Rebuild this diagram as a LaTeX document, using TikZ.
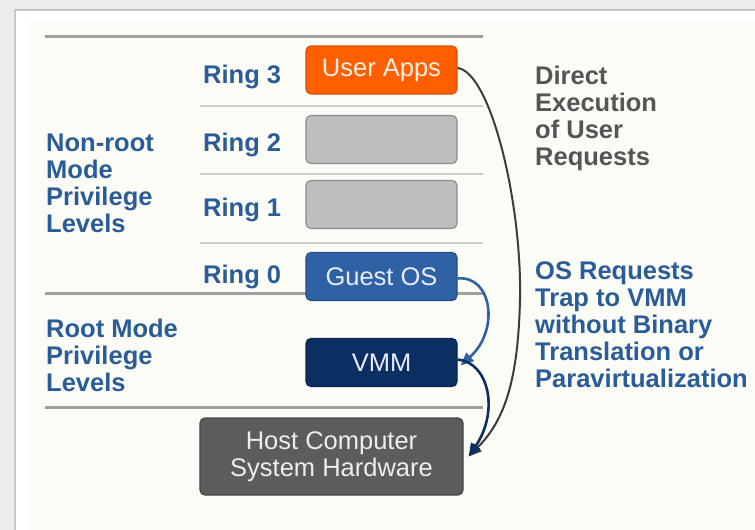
\documentclass[tikz,border=0pt]{standalone}
\usepackage{fontspec}
\setmainfont{Liberation Sans}
\usetikzlibrary{arrows.meta}
\definecolor{ringblue}{HTML}{2A5C98}
\definecolor{orangebox}{HTML}{FF5F00}
\definecolor{grayfill}{HTML}{BEBEBE}
\definecolor{grayedge}{HTML}{8A8A8A}
\definecolor{guestblue}{HTML}{2E62A5}
\definecolor{vmmnavy}{HTML}{0B2E63}
\definecolor{hostgray}{HTML}{5C5C5C}
\definecolor{sidegray}{HTML}{555555}
\definecolor{panelcream}{HTML}{FCFCF6}
\definecolor{arrowgray}{HTML}{3C3C3C}
\tikzset{
  lbl/.style={inner sep=0pt, anchor=base west, align=left, font=\fontsize{25.5}{27}\selectfont\bfseries},
  ringlbl/.style={lbl, text=ringblue},
  box/.style={draw, rounded corners=5pt, line width=1.2pt, minimum width=151pt, minimum height=48pt, inner sep=0pt, font=\fontsize{25.5}{27}\selectfont},
  thickrule/.style={draw=gray!75, line width=3pt},
  thinrule/.style={draw=gray!40, line width=1.3pt},
  conn/.style={line width=2.6pt, -{Triangle[length=13pt,width=11pt]}},
}
\begin{document}
\begin{tikzpicture}[x=1pt,y=-1pt]
\useasboundingbox (0,0) rectangle (755,530);
\fill[gray!15] (0,0) rectangle (755,530);
\filldraw[fill=white, draw=gray!45, line width=1.5pt] (15,10) rectangle (760,540);
\fill[panelcream] (27,22) rectangle (755,530);
% rules
\coordinate (r0a) at (45,36);   \coordinate (r0b) at (483,36);
\coordinate (r1a) at (200,106); \coordinate (r1b) at (483,106);
\coordinate (r2a) at (200,174); \coordinate (r2b) at (483,174);
\coordinate (r3a) at (200,243); \coordinate (r3b) at (483,243);
\coordinate (r4a) at (45,293);  \coordinate (r4b) at (483,293);
\coordinate (r5a) at (45,407);  \coordinate (r5b) at (483,407);
\draw[thickrule] (r0a) -- (r0b);
\draw[thinrule] (r1a) -- (r1b);
\draw[thinrule] (r2a) -- (r2b);
\draw[thinrule] (r3a) -- (r3b);
\draw[thickrule] (r4a) -- (r4b);
\draw[thickrule] (r5a) -- (r5b);
% boxes
\node[box, draw=orangebox!85!black, fill=orangebox, text=orange!10] (apps) at (381.5,70) {User Apps};
\node[box, draw=grayedge, fill=grayfill] (ring2box) at (381.5,139.5) {};
\node[box, draw=grayedge, fill=grayfill] (ring1box) at (381.5,204.5) {};
\node[box, draw=guestblue!80!black, fill=guestblue, text=white!92!blue] (guest) at (381.5,276.5) {Guest OS};
\node[box, draw=vmmnavy!80!black, fill=vmmnavy, text=white!92!blue] (vmm) at (381.5,362.5) {VMM};
\node[box, draw=hostgray!75!black, fill=hostgray, text=white!93!black, minimum width=263pt, minimum height=77pt, align=center] (host) at (331.5,456.5) {Host Computer\\System Hardware};
% ring labels
\node[ringlbl] (ring3) at (203,83) {Ring 3};
\node[ringlbl] (ring2) at (203,151) {Ring 2};
\node[ringlbl] (ring1) at (203,216) {Ring 1};
\node[ringlbl] (ring0) at (203,283) {Ring 0};
% mode labels (base = last line)
\node[ringlbl] (nonroot) at (46,232) {Non-root\\Mode\\Privilege\\Levels};
\node[ringlbl] (root) at (46,391) {Root Mode\\Privilege\\Levels};
% side labels
\node[lbl, text=sidegray] (direct) at (535,165) {Direct\\Execution\\of User\\Requests};
\node[ringlbl] (osreq) at (535,387) {OS Requests\\Trap to VMM\\without Binary\\Translation or\\Paravirtualization};
% connectors
\coordinate (hostin) at ([xshift=5pt,yshift=0pt]host.east);
\draw[conn, arrowgray, line width=2pt] ([yshift=2pt]apps.east) .. controls (490,72) and (522,200) .. (520,300) .. controls (518,380) and (505,420) .. (hostin);
\draw[conn, guestblue] ([yshift=-2pt]guest.east) .. controls (492,275) and (500,330) .. ([xshift=3pt,yshift=-3pt]vmm.east);
\draw[conn, vmmnavy] ([yshift=3pt]vmm.east) .. controls (488,362) and (500,410) .. (hostin);
\end{tikzpicture}
\end{document}
